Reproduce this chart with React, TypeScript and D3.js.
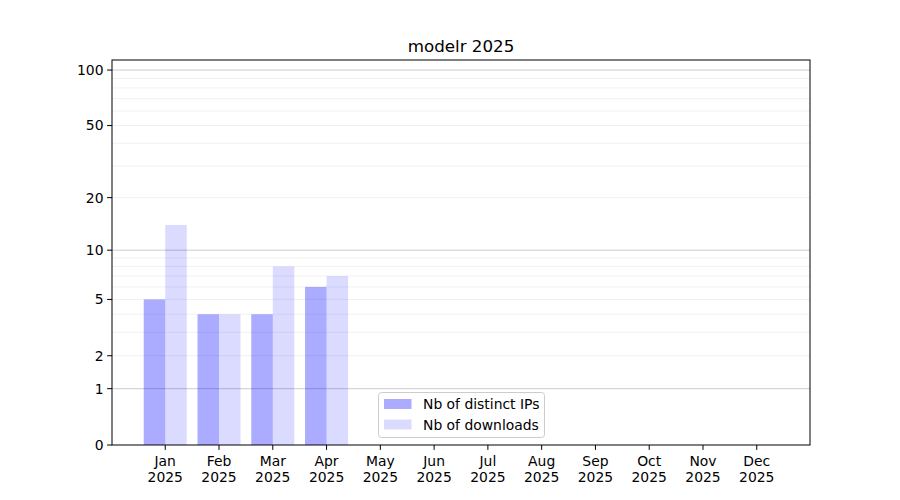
import React from "react";
import * as d3 from "d3";

const months = ["Jan", "Feb", "Mar", "Apr", "May", "Jun", "Jul", "Aug", "Sep", "Oct", "Nov", "Dec"];
const year = "2025";
const distinctIPs = [5, 4, 4, 6, 0, 0, 0, 0, 0, 0, 0, 0];
const downloads = [14, 4, 8, 7, 0, 0, 0, 0, 0, 0, 0, 0];
const yTicks = [0, 1, 2, 5, 10, 20, 50, 100];
const yMinor = [3, 4, 6, 7, 8, 9, 30, 40, 60, 70, 80, 90];
const yDecades = [1, 10, 100];
const seriesNames = ["Nb of distinct IPs", "Nb of downloads"];
const title = "modelr 2025";

const W = 900, H = 500;
const L = 112, R = 810, T = 60, B = 445;
const FONT = "DejaVu Sans, sans-serif";
const YMAX = 113.3;
const C1 = "rgba(0,0,255,0.33)";
const C2 = "rgba(0,0,255,0.14)";

export default function App() {
  const tf = (v: number) => Math.log10(1 + v);
  const yLin = d3.scaleLinear().domain([0, tf(YMAX)]).range([B, T]);
  const y = (v: number) => yLin(tf(v));
  const x = d3.scaleLinear().domain([-0.99, 11.99]).range([L, R]);
  const bw = 0.4;

  return (
    <svg width={W} height={H} style={{ position: "absolute", left: 0, top: 0, background: "#fff" }} fontFamily={FONT}>
      <rect x={0} y={0} width={W} height={H} fill="#fff" />
      {/* grid */}
      {yMinor.map((v) => (
        <line key={"m" + v} x1={L} x2={R} y1={y(v)} y2={y(v)} stroke="#ededed" strokeWidth={0.8} />
      ))}
      {yTicks.filter((v) => v > 0 && !yDecades.includes(v)).map((v) => (
        <line key={"g" + v} x1={L} x2={R} y1={y(v)} y2={y(v)} stroke="#ebebeb" strokeWidth={0.8} />
      ))}
      {yDecades.map((v) => (
        <line key={"d" + v} x1={L} x2={R} y1={y(v)} y2={y(v)} stroke="#cbcbcb" strokeWidth={1} />
      ))}
      {/* bars */}
      {months.map((m, i) => (
        <g key={m}>
          {distinctIPs[i] > 0 && (
            <rect x={x(i - bw)} y={y(distinctIPs[i])} width={x(i) - x(i - bw)} height={B - y(distinctIPs[i])} fill={C1} />
          )}
          {downloads[i] > 0 && (
            <rect x={x(i)} y={y(downloads[i])} width={x(i + bw) - x(i)} height={B - y(downloads[i])} fill={C2} />
          )}
        </g>
      ))}
      {/* axes frame */}
      <rect x={L} y={T} width={R - L} height={B - T} fill="none" stroke="#000" strokeWidth={1} />
      {/* y ticks */}
      {yTicks.map((v) => (
        <g key={"yt" + v}>
          <line x1={L - 4.9} x2={L} y1={y(v)} y2={y(v)} stroke="#000" strokeWidth={1} />
          <text x={L - 8.5} y={y(v)} dy="0.35em" textAnchor="end" fontSize={13.9} fill="#000">{v}</text>
        </g>
      ))}
      {/* x ticks */}
      {months.map((m, i) => (
        <g key={"xt" + m}>
          <line x1={x(i)} x2={x(i)} y1={B} y2={B + 4.9} stroke="#000" strokeWidth={1} />
          <text x={x(i)} y={466} textAnchor="middle" fontSize={13.9} fill="#000">{m}</text>
          <text x={x(i)} y={482} textAnchor="middle" fontSize={13.9} fill="#000">{year}</text>
        </g>
      ))}
      {/* title */}
      <text x={(L + R) / 2} y={52} textAnchor="middle" fontSize={16.7} fill="#000">{title}</text>
      {/* legend */}
      <g>
        <rect x={378.5} y={392.5} width={166} height={45} rx={3} fill="rgba(255,255,255,0.8)" stroke="#cccccc" strokeWidth={1} />
        <rect x={384} y={399} width={27.5} height={10} fill={C1} />
        <rect x={384} y={419.5} width={27.5} height={10} fill={C2} />
        <text x={423} y={409} fontSize={13.9} fill="#000">{seriesNames[0]}</text>
        <text x={423} y={430} fontSize={13.9} fill="#000">{seriesNames[1]}</text>
      </g>
    </svg>
  );
}
